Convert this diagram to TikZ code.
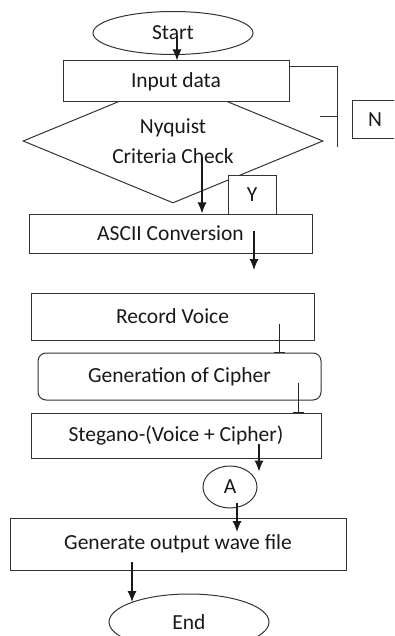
\documentclass[tikz,border=0pt]{standalone}
\usepackage{fontspec}
\setmainfont{Carlito}
\usepackage{tikz}
\usetikzlibrary{arrows.meta,positioning,calc,shapes.geometric}

\begin{document}
\begin{tikzpicture}[x=1pt, y=-1pt, >={Latex[length=11pt,width=9pt]},
  every node/.style={font=\fontsize{21.5}{30}\selectfont, text=black!90},
  box/.style={draw=black!80, line width=1pt, fill=white, inner sep=0pt},
  flow/.style={->, line width=1.1pt, black!90},
  tick/.style={-{Bar[width=11pt,line width=0.8pt]}, line width=1pt, black!85}]
  \useasboundingbox (0,0) rectangle (394,636);
  \clip (0,0) rectangle (394,636);

  \node[box, ellipse, minimum width=160pt, minimum height=43pt] (start) at (173,33) {Start};
  \node[box, diamond, aspect=2.42, minimum width=300pt, minimum height=124pt, align=center] (check) at (173,141) {Nyquist\\Criteria Check};
  \node[box, minimum width=226pt, minimum height=41pt] (input) at (176,81.5) {Input data};
  \node[box, minimum width=46pt, minimum height=38pt] (nbox) at (375,120) {N};
  \node[box, minimum width=48pt, minimum height=38pt] (ybox) at (252,195) {Y};
  \node[box, minimum width=283pt, minimum height=39pt] (ascii) at (170.5,233.5) {ASCII Conversion};
  \node[box, minimum width=283pt, minimum height=47pt] (record) at (172.5,316.5) {Record Voice};
  \node[box, rounded corners=8pt, minimum width=283pt, minimum height=47pt] (cipher) at (179.5,376.5) {Generation of Cipher};
  \node[box, minimum width=290pt, minimum height=45pt] (stegano) at (176,435.5) {Stegano-(Voice + Cipher)};
  \node[box, ellipse, minimum width=54pt, minimum height=42pt] (conn) at (230,487) {A};
  \node[box, minimum width=336pt, minimum height=52pt] (output) at (178,544) {Generate output wave file};
  \node[box, ellipse, minimum width=160pt, minimum height=56pt] (finish) at (189,622) {End};

  \coordinate (nend) at (337,147);
  \coordinate (gap) at (254,270);

  \draw[flow] ($(start.center)+(4,3)$) coordinate (c0) -- (c0 |- input.north);
  \draw[line width=1pt, black!80] ($(input.north east)+(0,6)$) -| (nend);
  \draw[line width=1pt, black!80] ($(nend)+(-17,-30)$) -- ($(nend)+(0,-30)$);
  \draw[flow] ($(check.center)+(29,16)$) coordinate (c1) -- (c1 |- ascii.north);
  \draw[flow] ($(ascii.center)+(83.5,-3)$) -- (gap);
  \draw[tick] ($(record.center)+(106.5,7.5)$) coordinate (c2) -- (c2 |- cipher.north);
  \draw[tick] ($(cipher.center)+(118.5,6.5)$) coordinate (c3) -- (c3 |- stegano.north);
  \draw[flow] ($(stegano.center)+(83,8.5)$) coordinate (c4) -- ($(c4 |- conn.north)+(0,6)$);
  \draw[flow] ($(conn.center)+(7,16)$) coordinate (c5) -- ($(c5 |- output.center)+(0,-12)$);
  \draw[flow] ($(output.center)+(-46,18)$) coordinate (c6) -- ($(c6 |- finish.center)+(0,-20)$);
\end{tikzpicture}
\end{document}
